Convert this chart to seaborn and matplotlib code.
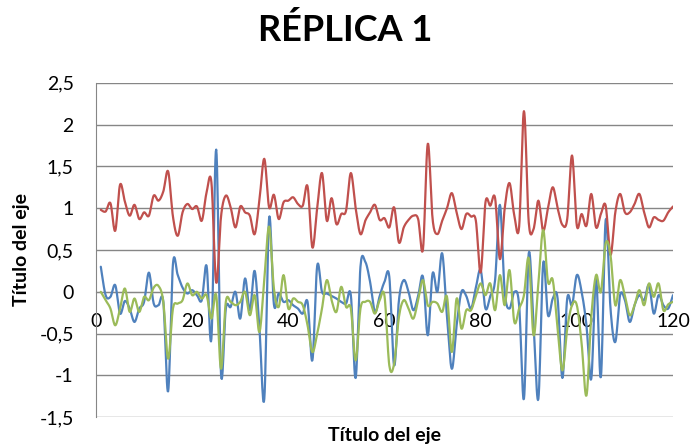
import numpy as np
import pandas as pd
import matplotlib
matplotlib.use('Agg')
import matplotlib.pyplot as plt
import seaborn as sns
from matplotlib.ticker import FuncFormatter

# Datos de la réplica 1
x_vals = list(range(1, 121))

serie_azul = [0.3, -0.04, -0.06, 0.08, -0.26, -0.11, -0.2, -0.36, -0.2, -0.12,
              0.23, -0.14, -0.16, -0.12, -1.19, 0.33, 0.2, 0.05, -0.02, 0.02,
              -0.04, -0.1, 0.31, -0.56, 1.7, -0.98, -0.2, -0.18, 0.0, -0.32,
              0.16, -0.22, 0.25, -0.45, -1.28, 0.88, -0.15, -0.02, -0.12, -0.1,
              -0.16, -0.2, -0.26, -0.12, -0.82, 0.31, 0.0, -0.02, -0.05, -0.08,
              -0.12, -0.14, -0.04, -1.03, 0.3, 0.36, 0.12, -0.24, -0.05, 0.12,
              0.18, -0.88, -0.1, 0.14, 0.0, -0.22, -0.05, 0.18, -0.52, 0.22,
              0.0, 0.46, -0.3, -0.92, -0.4, 0.0, -0.05, -0.2, 0.05, 0.26,
              -0.2, -0.05, 0.14, 1.04, 0.0, -0.2, 0.0, -0.16, -1.28, 0.46,
              -0.4, -1.28, 0.34, -0.28, -0.08, -0.08, -1.03, -0.08, -0.16, 0.2,
              0.0, -0.4, -1.04, 0.16, -1.02, 0.86, -0.2, -0.6, -0.04, -0.1,
              -0.36, -0.16, -0.04, -0.1, 0.08, -0.26, -0.04, -0.16, -0.2, -0.04]

serie_roja = [0.98, 0.96, 1.06, 0.73, 1.28, 1.08, 0.91, 1.04, 0.87, 0.95,
              0.91, 1.15, 1.09, 1.2, 1.44, 0.9, 0.67, 0.95, 1.05, 0.99,
              1.02, 0.85, 1.19, 1.31, 0.11, 0.9, 1.15, 1.01, 0.77, 1.02,
              0.95, 0.91, 0.69, 1.1, 1.59, 1.01, 1.16, 0.87, 1.07, 1.09,
              1.13, 1.05, 1.03, 1.26, 0.53, 1.0, 1.42, 0.85, 1.12, 0.81,
              0.93, 0.97, 1.42, 1.0, 0.69, 0.85, 0.95, 1.04, 0.86, 0.88,
              0.77, 1.01, 0.59, 0.77, 0.86, 0.91, 0.87, 0.51, 1.77, 0.87,
              0.69, 0.85, 1.0, 1.18, 0.95, 0.75, 0.93, 0.9, 0.85, 0.23,
              1.07, 1.03, 1.12, 0.39, 1.0, 1.3, 0.91, 0.78, 2.16, 0.83,
              0.75, 1.09, 0.73, 1.0, 1.25, 1.0, 0.8, 0.87, 1.63, 0.79,
              0.93, 0.79, 1.17, 0.77, 0.93, 1.03, 0.44, 0.95, 1.17, 0.95,
              0.95, 1.05, 1.17, 0.95, 0.77, 0.89, 0.86, 0.85, 0.95, 1.02]

serie_verde = [0.0, -0.1, -0.2, -0.4, -0.2, 0.04, -0.24, -0.08, -0.24, -0.06,
               -0.1, 0.05, 0.07, -0.12, -0.8, -0.2, -0.14, -0.1, 0.1, -0.04,
               0.0, -0.08, -0.04, -0.32, -0.04, -0.92, -0.12, -0.12, -0.16, -0.12,
               0.0, -0.28, -0.04, -0.48, 0.15, 0.78, 0.04, -0.18, 0.2, -0.2,
               -0.08, -0.12, -0.16, -0.4, -0.72, -0.5, -0.2, 0.14, -0.1, -0.24,
               0.06, -0.18, -0.2, -0.82, -0.2, -0.12, -0.12, -0.26, -0.1, -0.05,
               -0.88, -0.86, -0.3, -0.1, -0.2, -0.32, -0.1, 0.14, -0.16, -0.12,
               -0.14, -0.24, -0.06, -0.72, -0.08, -0.44, -0.22, -0.22, -0.05, 0.1,
               -0.04, 0.1, -0.22, 0.2, -0.16, 0.26, -0.36, -0.2, -0.04, 0.4,
               -0.52, 0.1, 0.74, 0.12, 0.14, -0.44, -0.94, -0.44, -0.16, -0.16,
               -0.62, -1.24, -0.3, 0.2, 0.0, 0.58, 0.44, -0.16, 0.14, -0.05,
               -0.28, -0.16, 0.02, -0.16, 0.1, -0.06, 0.1, -0.22, -0.15, -0.12]

series = ['Serie1', 'Serie2', 'Serie3']
colores = ['#4F81BD', '#C0504D', '#9BBB59']
x_ticks = [0, 20, 40, 60, 80, 100, 120]
y_ticks = [-1.5, -1, -0.5, 0, 0.5, 1, 1.5, 2, 2.5]
y_min, y_max = -1.5, 2.5


# Suavizado tipo Excel (Catmull-Rom)
def suavizar(xs, ys, n=12):
    xs = np.asarray(xs, dtype=float)
    ys = np.asarray(ys, dtype=float)
    px = np.concatenate([[xs[0]], xs, [xs[-1]]])
    py = np.concatenate([[ys[0]], ys, [ys[-1]]])
    out_x, out_y = [], []
    t = np.linspace(0, 1, n, endpoint=False)
    for i in range(1, len(px) - 2):
        for p, out in ((px, out_x), (py, out_y)):
            p0, p1, p2, p3 = p[i - 1], p[i], p[i + 1], p[i + 2]
            seg = 0.5 * (2 * p1 + (-p0 + p2) * t
                         + (2 * p0 - 5 * p1 + 4 * p2 - p3) * t ** 2
                         + (-p0 + 3 * p1 - 3 * p2 + p3) * t ** 3)
            out.extend(seg)
    out_x.append(xs[-1])
    out_y.append(ys[-1])
    return out_x, out_y


frames = []
for nombre, valores in zip(series, [serie_azul, serie_roja, serie_verde]):
    sx, sy = suavizar(x_vals, valores)
    frames.append(pd.DataFrame({'x': sx, 'y': sy, 'serie': nombre}))
df = pd.concat(frames, ignore_index=True)

sns.set_style('white')
plt.rcParams['font.family'] = ['Liberation Sans Narrow', 'Lato', 'DejaVu Sans']
plt.rcParams['text.color'] = 'black'
plt.rcParams['axes.labelcolor'] = 'black'

fig = plt.figure(figsize=(6.9, 4.47), dpi=100)
ax = fig.add_axes([96 / 690, 1 - 417.3 / 447, 577 / 690, 334.6 / 447])

sns.lineplot(data=df, x='x', y='y', hue='serie', hue_order=series,
             palette=colores, sort=False, estimator=None, linewidth=1.6,
             legend=False, ax=ax)

ax.set_xlim(0, 120)
ax.set_ylim(y_min, y_max)
ax.set_yticks(y_ticks)
ax.yaxis.set_major_formatter(FuncFormatter(lambda v, p: f'{v:g}'.replace('.', ',')))
ax.grid(axis='y', color='#868686', linewidth=1.0)
ax.set_axisbelow(True)

for s in ['top', 'right', 'bottom']:
    ax.spines[s].set_visible(False)
ax.spines['left'].set_color('#868686')
ax.set_xticks([])
ax.tick_params(axis='y', length=0, labelsize=14, colors='black', pad=16)

# eje horizontal cruzando en y = 0
eje_x = ax.secondary_xaxis((0 - y_min) / (y_max - y_min))
eje_x.set_xticks(x_ticks)
eje_x.spines['bottom'].set_color('#868686')
eje_x.tick_params(axis='x', length=0, labelsize=14, colors='black', pad=15)

ax.set_xlabel('Título del eje', fontsize=14, fontweight='bold', color='black')
ax.set_ylabel('Título del eje', fontsize=14, fontweight='bold', color='black')
ax.xaxis.set_label_coords(0.5, -0.028)
ax.yaxis.set_label_coords(-0.115, 0.5)

fig.text(0.5, 1 - 30 / 447, 'RÉPLICA 1', ha='center', va='center',
         fontsize=26, fontweight='bold', color='black')

fig.savefig('out.png', dpi=100)
